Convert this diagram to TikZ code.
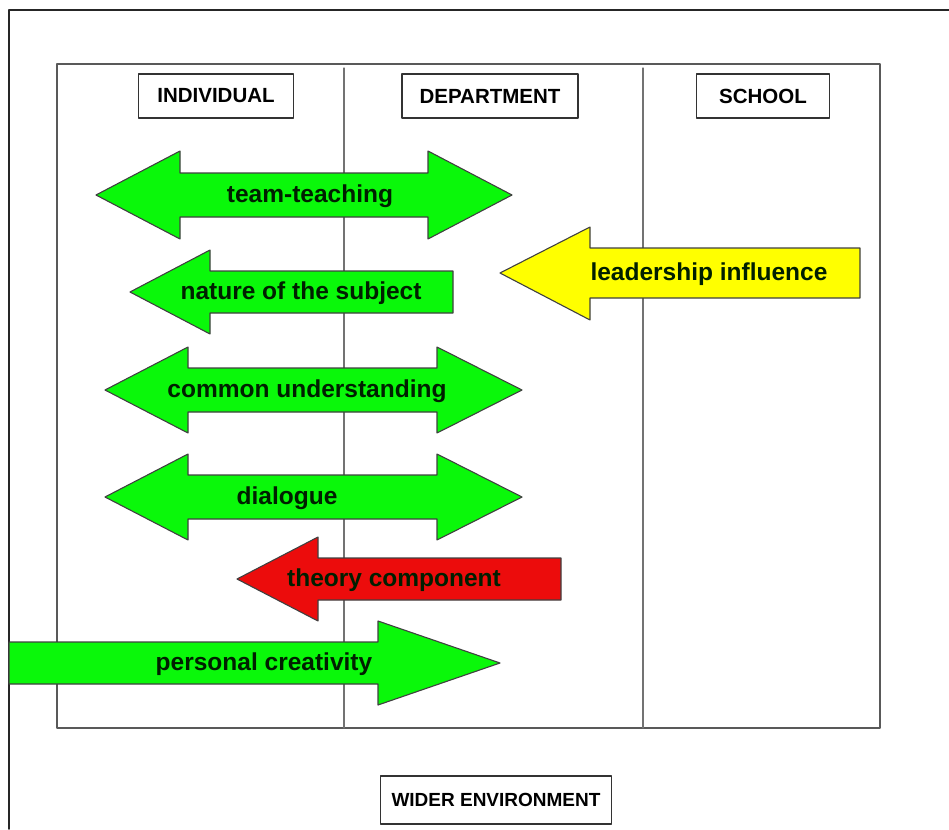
\documentclass[tikz,border=0pt]{standalone}
\usepackage{fontspec}
\setmainfont{Liberation Sans}
\definecolor{arrowgreen}{RGB}{10,248,10}
\definecolor{arrowyellow}{RGB}{255,255,0}
\definecolor{arrowred}{RGB}{236,12,12}

\begin{document}
\begin{tikzpicture}[line cap=round,line join=round,x=1pt,y=-1pt,
    frameline/.style={line width=1.8pt,black!85},
    laneframe/.style={line width=1.6pt,black!65},
    laneline/.style={line width=1.3pt,black!55},
    headbox/.style={draw=black!80,line width=1.2pt,fill=white,minimum height=44pt,inner sep=0pt,
        font=\bfseries\fontsize{20.5}{24}\selectfont},
    block/.style={draw=black!75,line width=1.1pt},
    blocklabel/.style={font=\bfseries\fontsize{24.5}{28}\selectfont,text=black!88!green}]
    \useasboundingbox (0,0) rectangle (949,829);
    % outer frame, cut off at the right and at the bottom
    \draw [frameline] (949,10) -- (9,10) -- (9,829);
    % the three lanes
    \draw [laneframe] (57,64) rectangle (880,728);
    \draw [laneline] (344,68) -- (344,728);
    \draw [laneline] (643,68) -- (643,728);

    \node[headbox,minimum width=155pt] (individual) at (216,96) {INDIVIDUAL};
    \node[headbox,minimum width=176pt] (department) at (490,96) {DEPARTMENT};
    \node[headbox,minimum width=133pt] (school) at (763,96) {SCHOOL};
    \node[headbox,minimum width=231pt,minimum height=48pt,font=\bfseries\fontsize{19}{22}\selectfont] (wider) at (496,800) {WIDER ENVIRONMENT};

    % team-teaching
    \draw [block,fill=arrowgreen] (96,195) -- (180,151) -- (180,173) -- (428,173) -- (428,151) -- (512,195)
        -- (428,239) -- (428,217) -- (180,217) -- (180,239) -- cycle;
    % nature of the subject
    \draw [block,fill=arrowgreen] (130,292) -- (210,250) -- (210,271) -- (453,271) -- (453,313) -- (210,313) -- (210,334) -- cycle;
    % leadership influence
    \draw [block,fill=arrowyellow] (500,273) -- (590,227) -- (590,248) -- (860,248) -- (860,298) -- (590,298) -- (590,320) -- cycle;
    % common understanding
    \draw [block,fill=arrowgreen] (105,390) -- (188,347) -- (188,368) -- (437,368) -- (437,347) -- (522,390)
        -- (437,433) -- (437,412) -- (188,412) -- (188,433) -- cycle;
    % dialogue
    \draw [block,fill=arrowgreen] (105,497) -- (188,454) -- (188,475) -- (437,475) -- (437,454) -- (522,497)
        -- (437,540) -- (437,519) -- (188,519) -- (188,540) -- cycle;
    % theory component
    \draw [block,fill=arrowred] (237,579) -- (318,537) -- (318,558) -- (561,558) -- (561,600) -- (318,600) -- (318,621) -- cycle;
    % personal creativity
    \draw [block,fill=arrowgreen] (9,642) -- (378,642) -- (378,621) -- (500,663) -- (378,705) -- (378,684) -- (9,684) -- cycle;

    \node[blocklabel] (teaching) at (310,196) {team-teaching};
    \node[blocklabel] (nature) at (301,293) {nature of the subject};
    \node[blocklabel] (leadership) at (709,274) {leadership influence};
    \node[blocklabel] (common) at (307,391) {common understanding};
    \node[blocklabel] (dialogue) at (287,498) {dialogue};
    \node[blocklabel] (theory) at (394,580) {theory component};
    \node[blocklabel] (creativity) at (264,664) {personal creativity};

\end{tikzpicture}
\end{document}
